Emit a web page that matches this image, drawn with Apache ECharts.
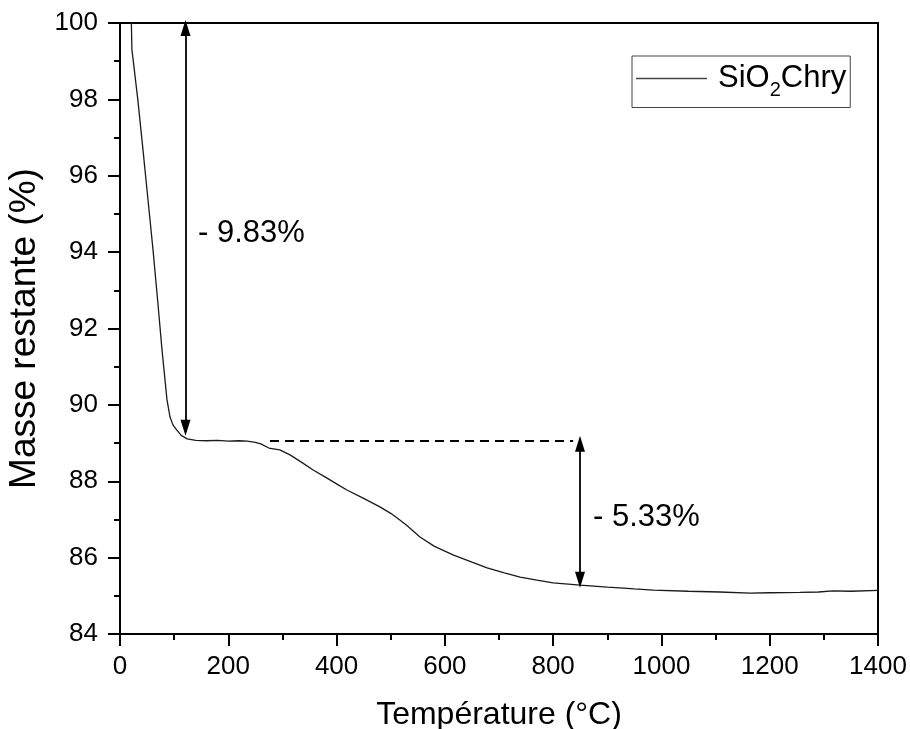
<!DOCTYPE html>
<html><head><meta charset="utf-8">
<script src="https://cdn.jsdelivr.net/npm/echarts@6/dist/echarts.min.js"></script>
<style>html,body{margin:0;padding:0;background:#fff}#c{width:910px;height:729px}</style>
</head><body><div id="c"></div>
<script>
const temperature = [20, 21, 22, 25, 33, 42.5, 51.7, 61, 70, 77.6, 86.8, 92.4, 98, 105, 113, 124, 140, 160, 180, 200, 220, 235, 250, 260, 275, 295, 314, 335, 356, 380, 400, 419, 450, 480, 500, 512, 530, 554, 580, 615, 650, 678, 710, 739, 770, 800, 850, 900, 923, 950, 985, 1050, 1108, 1164, 1200, 1256, 1290, 1317, 1350, 1400];
const masse = [100.8, 100.0, 99.3, 98.95, 97.98, 96.67, 95.37, 94.06, 92.66, 91.44, 90.13, 89.68, 89.47, 89.34, 89.2, 89.11, 89.07, 89.06, 89.07, 89.05, 89.06, 89.05, 89.02, 88.98, 88.87, 88.82, 88.69, 88.5, 88.3, 88.1, 87.93, 87.77, 87.55, 87.33, 87.16, 87.04, 86.84, 86.54, 86.3, 86.07, 85.88, 85.73, 85.6, 85.49, 85.41, 85.34, 85.28, 85.23, 85.21, 85.18, 85.15, 85.12, 85.1, 85.07, 85.08, 85.09, 85.1, 85.13, 85.12, 85.14];
const seriesName = 'SiO2Chry';
const xTicks = [0, 200, 400, 600, 800, 1000, 1200, 1400];
const yTicks = [84, 86, 88, 90, 92, 94, 96, 98, 100];
const arrow1 = [[121, 99.87], [121, 89.40]];
const arrow2 = [[849.6, 88.98], [849.6, 85.42]];
const dashLine = [[277, 89.05], [837, 89.05]];
const label1 = {text: '- 9.83%', pos: [144, 94.5]};
const label2 = {text: '- 5.33%', pos: [873.6, 87.04]};

const FONT = '"Liberation Sans", Arial, sans-serif';
const chart = echarts.init(document.getElementById('c'));
const axisCommon = {
  axisLine: {show: true, lineStyle: {color: '#000', width: 2}},
  axisTick: {show: true, inside: false, length: 12, lineStyle: {color: '#000', width: 2}},
  minorTick: {show: true, splitNumber: 2, length: 6, lineStyle: {color: '#000', width: 2}},
  splitLine: {show: false},
  axisLabel: {color: '#000', fontSize: 26, fontFamily: FONT}
};
chart.setOption({
  animation: false,
  grid: {left: 120, right: 32, top: 23, bottom: 95, show: true, borderColor: '#000', borderWidth: 2, containLabel: false, outerBoundsMode: 'none'},
  legend: {
    left: 632, top: 56, orient: 'horizontal',
    borderColor: '#444', borderWidth: 1, padding: [7, 4, 7, 4],
    itemWidth: 71, itemHeight: 1.5, itemGap: 0,
    data: [{name: seriesName, icon: 'rect'}],
    formatter: () => '{a|SiO}{s|2}{a|Chry}',
    textStyle: {
      color: '#000', fontFamily: FONT, padding: [0, 0, 0, 6],
      rich: {
        a: {fontSize: 31, fontFamily: FONT, color: '#000', lineHeight: 34},
        s: {fontSize: 20, fontFamily: FONT, color: '#000', verticalAlign: 'bottom', lineHeight: 18, padding: [0, 0, -5, 0]}
      }
    }
  },
  xAxis: Object.assign({}, axisCommon, {
    type: 'value', min: 0, max: 1400, interval: 200,
    name: 'Température (°C)', nameLocation: 'middle', nameGap: 65,
    nameTextStyle: {color: '#000', fontSize: 32, fontFamily: FONT},
    axisLabel: Object.assign({}, axisCommon.axisLabel, {margin: 20, formatter: v => xTicks.includes(v) ? String(v) : ''})
  }),
  yAxis: Object.assign({}, axisCommon, {
    type: 'value', min: 84, max: 100, interval: 2,
    name: 'Masse restante (%)', nameLocation: 'middle', nameGap: 72,
    nameTextStyle: {color: '#000', fontSize: 37, fontFamily: FONT},
    axisLabel: Object.assign({}, axisCommon.axisLabel, {margin: 22, formatter: v => yTicks.includes(v) ? String(v) : ''})
  }),
  series: [
    {
      name: seriesName, type: 'line', showSymbol: false, symbol: 'none', clip: true,
      data: temperature.map((t, i) => [t, masse[i]]),
      lineStyle: {color: '#1a1a1a', width: 1.3}, itemStyle: {color: '#444'},
      markLine: {
        silent: true, animation: false, precision: 4,
        label: {show: false},
        data: [
          [{coord: arrow1[0], symbol: 'triangle'}, {coord: arrow1[1], symbol: 'triangle'}],
          [{coord: arrow2[0], symbol: 'triangle'}, {coord: arrow2[1], symbol: 'triangle'}],
          [{coord: dashLine[0], symbol: 'none', lineStyle: {type: [9, 6], width: 1.8}}, {coord: dashLine[1], symbol: 'none'}]
        ],
        symbolSize: [10, 16],
        lineStyle: {color: '#000', width: 1.8, type: 'solid'}
      },
      markPoint: {
        silent: true, symbol: 'circle', symbolSize: 0,
        label: {show: true, position: 'right', distance: 0, color: '#000', fontSize: 31, fontFamily: FONT, formatter: p => p.name},
        data: [
          {name: label1.text, coord: label1.pos},
          {name: label2.text, coord: label2.pos}
        ]
      }
    }
  ]
});
</script></body></html>
